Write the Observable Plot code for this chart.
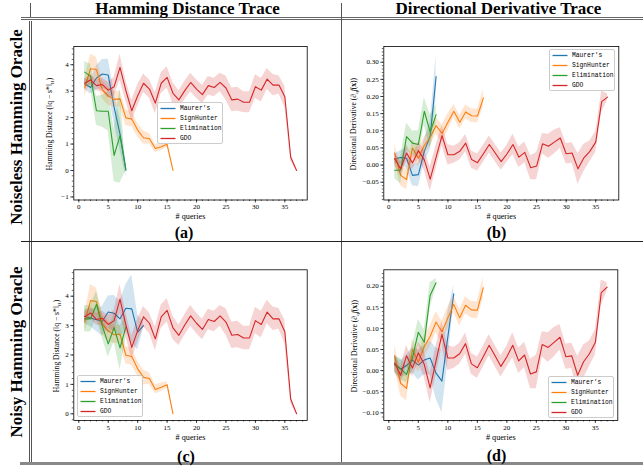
<!DOCTYPE html>
<html><head><meta charset="utf-8">
<script src="https://cdn.jsdelivr.net/npm/d3@7"></script>
<script src="https://cdn.jsdelivr.net/npm/@observablehq/plot@0.6"></script>
<style>
body{margin:0;background:#fff;width:643px;height:467px;overflow:hidden;position:relative;font-family:"Liberation Serif",serif;color:#000;}
.hdr{position:absolute;font-weight:bold;font-size:17px;white-space:nowrap;transform:translate(-50%,-50%);}
.row{position:absolute;font-weight:bold;font-size:17px;white-space:nowrap;transform:translate(-50%,-50%) rotate(-90deg);}
.cap{position:absolute;font-weight:bold;font-size:16px;white-space:nowrap;transform:translate(-50%,-50%);}
.ylab{position:absolute;font-size:7.6px;white-space:nowrap;transform:translate(-50%,-50%) rotate(-90deg);}
.ylab sub{font-size:5px;}
.ln{position:absolute;}
.legend{position:absolute;border:0.8px solid #ccc;border-radius:2px;background:rgba(255,255,255,0.8);font-family:"Liberation Mono",monospace;font-size:6.3px;box-sizing:border-box;}
.legend svg{position:absolute;left:0;top:0;overflow:visible;}
.legend .tx{position:absolute;white-space:nowrap;transform:translateY(-50%);line-height:1;}
.plot{position:absolute;}
</style>
</head><body>
<script>
// ---------- data ----------
const seriesNames = ["Maurer's", "SignHunter", "Elimination", "GDO"];
const seriesColors = ["#1f77b4", "#ff7f0e", "#2ca02c", "#d62728"];

// Hamming distance, noiseless oracle (a)
const maurerHD_a    = [3.27, 3.14, 3.50, 3.65, 3.61, 2.39, 1.38, 0.05];
const maurerHDerr_a = [0.20, 0.25, 0.45, 0.55, 0.60, 0.60, 0.60, 0.30];
const elimHD_a      = [3.72, 3.57, 2.26, 2.24, 2.24, 0.57, 1.32, 0.00];
const elimHDerr_a   = [0.40, 0.45, 0.55, 0.60, 0.75, 1.00, 1.80, 0.00];
// Hamming distance, noisy oracle (c)
const maurerHD_c    = [3.31, 3.26, 3.20, 3.15, 3.46, 3.42, 3.23, 3.59, 3.57, 2.78, 3.00];
const maurerHDerr_c = [0.25, 0.30, 0.40, 0.50, 0.55, 0.60, 0.60, 0.80, 1.15, 0.60, 0.10];
const elimHD_c      = [3.23, 3.23, 3.72, 2.98, 2.38, 2.93, 2.24, 2.95];
const elimHDerr_c   = [0.45, 0.45, 0.45, 0.40, 0.45, 0.50, 0.75, 0.40];
// shared Hamming distance traces
const signHD    = [3.12, 3.85, 3.82, 3.05, 2.82, 2.69, 2.71, 1.99, 1.95, 1.53, 1.24, 1.20, 0.83, 0.90, 0.99, 0.00];
const signHDerr = [0.30, 0.55, 0.45, 0.35, 0.35, 0.30, 0.30, 0.30, 0.30, 0.25, 0.25, 0.20, 0.15, 0.15, 0.10, 0.00];
const gdoHD    = [3.30, 3.43, 3.21, 3.25, 3.04, 3.17, 3.90, 3.02, 2.26, 2.83, 3.30, 3.08, 2.55, 3.30, 3.52, 2.92, 2.67, 3.02, 3.33, 3.08, 2.87, 3.21, 3.14, 3.33, 3.12, 2.67, 2.70, 2.58, 2.58, 3.17, 3.04, 3.46, 3.23, 3.23, 2.79, 0.50, 0.00];
const gdoHDerr = [0.15, 0.20, 0.20, 0.25, 0.30, 0.35, 0.50, 0.40, 0.40, 0.40, 0.35, 0.35, 0.40, 0.40, 0.40, 0.40, 0.35, 0.35, 0.35, 0.35, 0.35, 0.35, 0.35, 0.35, 0.45, 0.45, 0.45, 0.40, 0.40, 0.45, 0.45, 0.40, 0.40, 0.35, 0.40, 0.15, 0.02];

// Directional derivative, noiseless oracle (b)
const maurerDD_b    = [0.018, 0.022, 0.020, -0.030, -0.028, 0.040, 0.085, 0.258];
const maurerDDerr_b = [0.015, 0.020, 0.030, 0.030, 0.035, 0.035, 0.040, 0.060];
const elimDD_b      = [-0.015, -0.015, 0.083, 0.064, 0.060, 0.157, 0.096, 0.147];
const elimDDerr_b   = [0.025, 0.040, 0.040, 0.035, 0.040, 0.040, 0.050, 0.030];
// Directional derivative, noisy oracle (d)
const maurerDD_d    = [0.016, 0.004, 0.012, 0.025, 0.013, 0.025, 0.030, -0.006, -0.025, 0.080, 0.182];
const maurerDDerr_d = [0.020, 0.020, 0.025, 0.030, 0.035, 0.035, 0.040, 0.060, 0.075, 0.060, 0.020];
const elimDD_d      = [0.014, 0.004, -0.009, 0.030, 0.091, 0.067, 0.178, 0.208];
const elimDDerr_d   = [0.020, 0.025, 0.020, 0.030, 0.030, 0.030, 0.030, 0.010];
// shared directional derivative traces
const signDD    = [0.035, -0.030, -0.042, 0.050, 0.020, 0.057, 0.081, 0.115, 0.092, 0.125, 0.157, 0.125, 0.155, 0.144, 0.143, 0.196];
const signDDerr = [0.025, 0.030, 0.030, 0.025, 0.025, 0.025, 0.025, 0.025, 0.025, 0.025, 0.020, 0.020, 0.020, 0.020, 0.020, 0.025];
const gdoDD    = [0.018, -0.011, 0.035, 0.006, 0.042, 0.015, -0.041, 0.023, 0.086, 0.030, 0.030, 0.040, 0.064, 0.016, 0.007, 0.033, 0.060, 0.035, 0.010, 0.033, 0.060, 0.023, 0.037, -0.008, -0.003, 0.062, 0.055, 0.067, 0.079, 0.033, 0.035, -0.011, 0.021, 0.040, 0.067, 0.185, 0.198];
const gdoDDerr = [0.020, 0.020, 0.025, 0.020, 0.025, 0.030, 0.035, 0.035, 0.030, 0.030, 0.025, 0.025, 0.025, 0.025, 0.025, 0.025, 0.025, 0.025, 0.025, 0.025, 0.030, 0.030, 0.030, 0.035, 0.040, 0.030, 0.035, 0.035, 0.030, 0.030, 0.030, 0.045, 0.040, 0.030, 0.030, 0.030, 0.010];

// ticks
const xTicks = [0, 5, 10, 15, 20, 25, 30, 35];
const yTicksA = [-1, 0, 1, 2, 3, 4];
const yTicksB = [-0.05, 0.00, 0.05, 0.10, 0.15, 0.20, 0.25, 0.30];
const yTicksC = [0, 1, 2, 3, 4];
const yTicksD = [-0.10, -0.05, 0.00, 0.05, 0.10, 0.15, 0.20];

// ---------- layout helpers ----------
function el(tag, cls, css, html) {
  const e = document.createElement(tag);
  if (cls) e.className = cls;
  Object.assign(e.style, css || {});
  if (html != null) e.innerHTML = html;
  document.body.appendChild(e);
  return e;
}
function rows(vals, errs) {
  return vals.map((v, i) => ({q: i + 1, v, lo: v - errs[i], hi: v + errs[i]}));
}

function panel(cfg) {
  const {left, top, width, height, F, xDomain, yDomain, yTicks, yMinor, yFmt, series} = cfg;
  const marks = [];
  series.forEach(s => {
    const d = rows(s.vals, s.errs);
    marks.push(Plot.lineY(d, {x: "q", y: "v", stroke: s.color, strokeWidth: 1.1, clip: true}));
    marks.push(Plot.areaY(d, {x: "q", y1: "lo", y2: "hi", fill: s.color, fillOpacity: 0.2, clip: true}));
  });
  const xMinor = d3.range(0, 39, 1);
  const svg = Plot.plot({
    width, height,
    marginLeft: F.L - left, marginRight: left + width - F.R,
    marginTop: F.T - top, marginBottom: top + height - F.B,
    x: {domain: xDomain},
    y: {domain: yDomain},
    style: {fontFamily: "Liberation Serif", fontSize: "7px", color: "#000", background: "transparent", overflow: "visible"},
    marks: [
      Plot.axisX(xMinor, {tickSize: 1.5, tickFormat: () => "", label: null, strokeWidth: 0.6}),
      Plot.axisY(yMinor, {tickSize: 1.5, tickFormat: () => "", label: null, strokeWidth: 0.6}),
      Plot.axisX(xTicks, {tickSize: 3, tickPadding: 1.5, label: "# queries", labelAnchor: "center", labelArrow: "none", labelOffset: 19, fontSize: 7, strokeWidth: 0.7}),
      Plot.axisY(yTicks, {tickSize: 3, tickPadding: 2, tickFormat: yFmt, label: null, fontSize: 7, strokeWidth: 0.7}),
      ...marks,
      Plot.frame({stroke: "#000", strokeWidth: 0.8})
    ]
  });
  svg.classList.add("plot");
  svg.style.left = left + "px";
  svg.style.top = top + "px";
  // enlarge the x-axis label
  svg.querySelectorAll("[aria-label='x-axis label'] text, [aria-label='x-axis label']").forEach(t => {
    t.setAttribute("font-size", "8.2");
  });
  document.body.appendChild(svg);

  // y label
  el("div", "ylab", {left: cfg.ylx + "px", top: ((F.T + F.B) / 2 + 1) + "px"}, cfg.ylabel);

  // legend
  const lg = el("div", "legend", {left: cfg.leg.x + "px", top: cfg.leg.y + "px", width: "66px", height: "42px"});
  const ns = "http://www.w3.org/2000/svg";
  const sv = document.createElementNS(ns, "svg");
  sv.setAttribute("width", 66); sv.setAttribute("height", 42);
  lg.appendChild(sv);
  series.forEach((s, i) => {
    const cy = 5.5 + i * 10;
    const l = document.createElementNS(ns, "line");
    l.setAttribute("x1", 2.5); l.setAttribute("x2", 17.5);
    l.setAttribute("y1", cy); l.setAttribute("y2", cy);
    l.setAttribute("stroke", s.color); l.setAttribute("stroke-width", 1.3);
    sv.appendChild(l);
    const tx = document.createElement("div");
    tx.className = "tx";
    Object.assign(tx.style, {left: "22px", top: cy + "px"});
    tx.textContent = s.name;
    lg.appendChild(tx);
  });
}

const HD_LABEL = "Hamming Distance (‖q − s*‖<sub>H</sub>)";
const DD_LABEL = "Directional Derivative (∂<sub>q</sub><i>f</i>(<b>x</b>))";

// ---------- table lines ----------
el("div", "ln", {left: "29.5px", top: "3px", width: "1px", height: "14px", background: "#555"});
el("div", "ln", {left: "21px", top: "17px", width: "622px", height: "1px", background: "#666"});
el("div", "ln", {left: "21px", top: "19.2px", width: "622px", height: "1px", background: "#666"});
el("div", "ln", {left: "28.8px", top: "21px", width: "1px", height: "441px", background: "#555"});
el("div", "ln", {left: "31px", top: "21px", width: "1px", height: "441px", background: "#555"});
el("div", "ln", {left: "341.3px", top: "3px", width: "1px", height: "459px", background: "#555"});
el("div", "ln", {left: "21px", top: "241.3px", width: "622px", height: "1.2px", background: "#222"});
el("div", "ln", {left: "20px", top: "462px", width: "623px", height: "3px", background: "#888"});

el("div", "hdr", {left: "187.5px", top: "9px"}, "Hamming Distance Trace");
el("div", "hdr", {left: "498.5px", top: "9px"}, "Directional Derivative Trace");
el("div", "row", {left: "17px", top: "127px"}, "Noiseless Hamming Oracle");
el("div", "row", {left: "17px", top: "352px"}, "Noisy Hamming Oracle");
el("div", "cap", {left: "184px", top: "233px"}, "(a)");
el("div", "cap", {left: "496.5px", top: "233px"}, "(b)");
el("div", "cap", {left: "186px", top: "456.5px"}, "(c)");
el("div", "cap", {left: "496.5px", top: "456px"}, "(d)");

function mk(names, colors, vals, errs) {
  return names.map((n, i) => ({name: n, color: colors[i], vals: vals[i], errs: errs[i]}));
}

// (a)
panel({
  left: 35, top: 40, width: 280, height: 190,
  F: {L: 73.3, R: 306.7, T: 46, B: 199.5},
  xDomain: [-0.85, 38.8], yDomain: [-1.116, 4.69],
  yTicks: yTicksA, yMinor: d3.range(-1, 4.61, 0.2), yFmt: d3.format("d"),
  series: mk(seriesNames, seriesColors, [maurerHD_a, signHD, elimHD_a, gdoHD], [maurerHDerr_a, signHDerr, elimHDerr_a, gdoHDerr]),
  ylabel: HD_LABEL, ylx: 50,
  leg: {x: 157, y: 102}
});
// (b)
panel({
  left: 345, top: 40, width: 290, height: 190,
  F: {L: 383.3, R: 618.3, T: 46, B: 199.5},
  xDomain: [-0.85, 38.9], yDomain: [-0.1019, 0.3458],
  yTicks: yTicksB, yMinor: d3.range(-0.10, 0.341, 0.01), yFmt: d3.format(".2f"),
  series: mk(seriesNames, seriesColors, [maurerDD_b, signDD, elimDD_b, gdoDD], [maurerDDerr_b, signDDerr, elimDDerr_b, gdoDDerr]),
  ylabel: DD_LABEL, ylx: 354,
  leg: {x: 549, y: 49}
});
// (c)
panel({
  left: 35, top: 262, width: 280, height: 190,
  F: {L: 73.3, R: 306.7, T: 269.3, B: 420},
  xDomain: [-0.85, 38.8], yDomain: [-0.228, 4.898],
  yTicks: yTicksC, yMinor: d3.range(-0.2, 4.81, 0.2), yFmt: d3.format("d"),
  series: mk(seriesNames, seriesColors, [maurerHD_c, signHD, elimHD_c, gdoHD], [maurerHDerr_c, signHDerr, elimHDerr_c, gdoHDerr]),
  ylabel: HD_LABEL, ylx: 57,
  leg: {x: 77, y: 375}
});
// (d)
panel({
  left: 345, top: 262, width: 290, height: 190,
  F: {L: 383.3, R: 617.3, T: 269.3, B: 420},
  xDomain: [-0.85, 38.8], yDomain: [-0.1182, 0.2389],
  yTicks: yTicksD, yMinor: d3.range(-0.11, 0.231, 0.01), yFmt: d3.format(".2f"),
  series: mk(seriesNames, seriesColors, [maurerDD_d, signDD, elimDD_d, gdoDD], [maurerDDerr_d, signDDerr, elimDDerr_d, gdoDDerr]),
  ylabel: DD_LABEL, ylx: 355,
  leg: {x: 548, y: 376}
});
</script>
</body></html>
